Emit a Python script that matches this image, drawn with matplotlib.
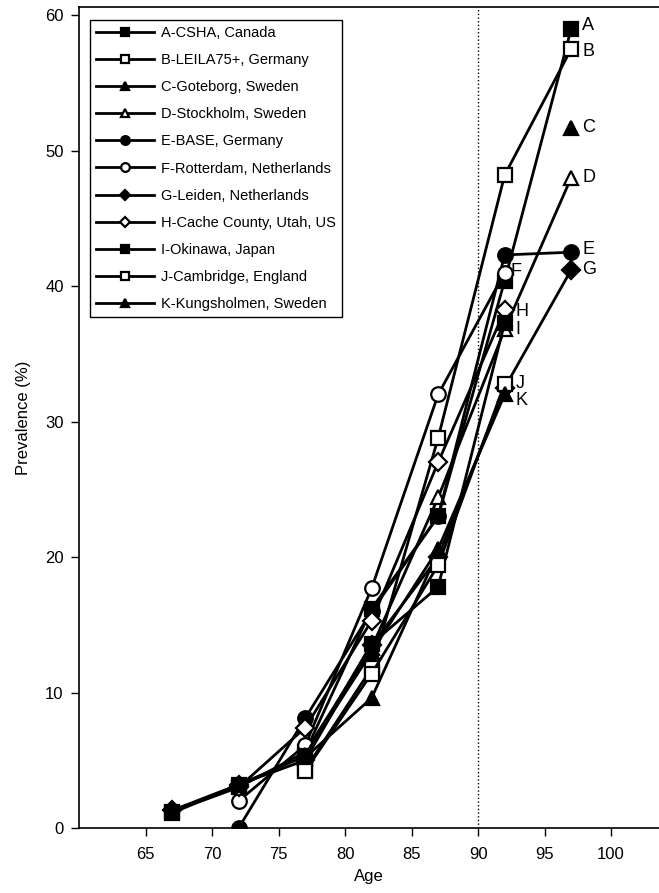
import numpy as np
import matplotlib.pyplot as plt

plt.rcParams['font.family'] = ['Liberation Sans', 'DejaVu Sans']

ages = [67, 72, 77, 82, 87, 92, 97]
nan = np.nan

names = ['A-CSHA, Canada', 'B-LEILA75+, Germany', 'C-Goteborg, Sweden',
         'D-Stockholm, Sweden', 'E-BASE, Germany', 'F-Rotterdam, Netherlands',
         'G-Leiden, Netherlands', 'H-Cache County, Utah, US', 'I-Okinawa, Japan',
         'J-Cambridge, England', 'K-Kungsholmen, Sweden']
letters = ['A', 'B', 'C', 'D', 'E', 'F', 'G', 'H', 'I', 'J', 'K']

prev_a = [1.2, 3.0, 5.6, 16.2, 23.0, 40.4, 59.0]
prev_b = [nan, nan, 4.3, 11.8, 28.8, 48.2, 57.5]
prev_c = [nan, nan, 5.2, 9.6, 20.4, nan, 51.7]
prev_d = [nan, nan, 5.6, 13.3, 24.4, 36.8, 48.0]
prev_e = [nan, 0.0, 8.1, 16.0, 23.0, 42.3, 42.5]
prev_f = [nan, 2.0, 6.1, 17.7, 32.0, 41.0, nan]
prev_g = [1.3, 3.2, 5.0, 13.5, 20.0, 32.5, 41.2]
prev_h = [nan, 3.0, 7.4, 15.3, 27.0, 38.2, nan]
prev_i = [1.1, 3.2, 5.3, 13.6, 17.8, 37.3, nan]
prev_j = [nan, nan, 4.2, 11.4, 19.4, 32.8, nan]
prev_k = [nan, nan, 5.4, 13.0, 20.6, 32.0, nan]

series = [prev_a, prev_b, prev_c, prev_d, prev_e, prev_f,
          prev_g, prev_h, prev_i, prev_j, prev_k]

markers = ['s', 's', '^', '^', 'o', 'o', 'D', 'D', 's', 's', '^']
filled = [True, False, True, False, True, False, True, False, True, False, True]
# where each end label sits, offset in points from the last point
label_off = [(8, 2), (8, -2), (8, 0), (8, 0), (8, 2), (4, 1), (8, 0),
             (8, -1), (8, -5), (8, 0), (8, -4)]

fig = plt.figure(figsize=(6.59, 8.93), dpi=100)
ax = fig.add_axes([79 / 659, 65 / 893, 580 / 659, 821 / 893])

ax.axvline(90, color='black', linestyle=':', linewidth=1.0, zorder=1)

for name, vals, m, f in zip(names, series, markers, filled):
    ms = 9 if m == 'D' else 10.5
    ax.plot(ages, vals, color='black', linewidth=2.0, marker=m, markersize=ms,
            markerfacecolor='black' if f else 'white', markeredgecolor='black',
            markeredgewidth=1.6, label=name, zorder=3)

for lt, vals, off in zip(letters, series, label_off):
    idx = max(i for i, v in enumerate(vals) if not np.isnan(v))
    ax.annotate(lt, (ages[idx], vals[idx]), xytext=off, textcoords='offset points',
                fontsize=13, va='center', ha='left')

ax.set_xlim(60, 103.6)
ax.set_ylim(0, 60.6)
ax.set_xticks([65, 70, 75, 80, 85, 90, 95, 100])
ax.set_yticks([0, 10, 20, 30, 40, 50, 60])
ax.tick_params(labelsize=12, length=6, width=1)
ax.tick_params(axis='x', pad=8)
ax.tick_params(axis='y', pad=5)
ax.spines['right'].set_visible(False)
for s in ['left', 'bottom', 'top']:
    ax.spines[s].set_linewidth(1.2)
ax.set_xlabel('Age', fontsize=12, labelpad=5)
ax.set_ylabel('Prevalence (%)', fontsize=12, labelpad=10)

leg = ax.legend(loc='upper left', bbox_to_anchor=(0.019, 0.984), borderaxespad=0,
                fontsize=10.5, handlelength=4.0, markerscale=0.6, fancybox=False,
                framealpha=1, edgecolor='black', borderpad=0.4, labelspacing=0.9,
                handletextpad=0.5)
leg.get_frame().set_linewidth(1.0)

fig.savefig('out.png', dpi=100)
